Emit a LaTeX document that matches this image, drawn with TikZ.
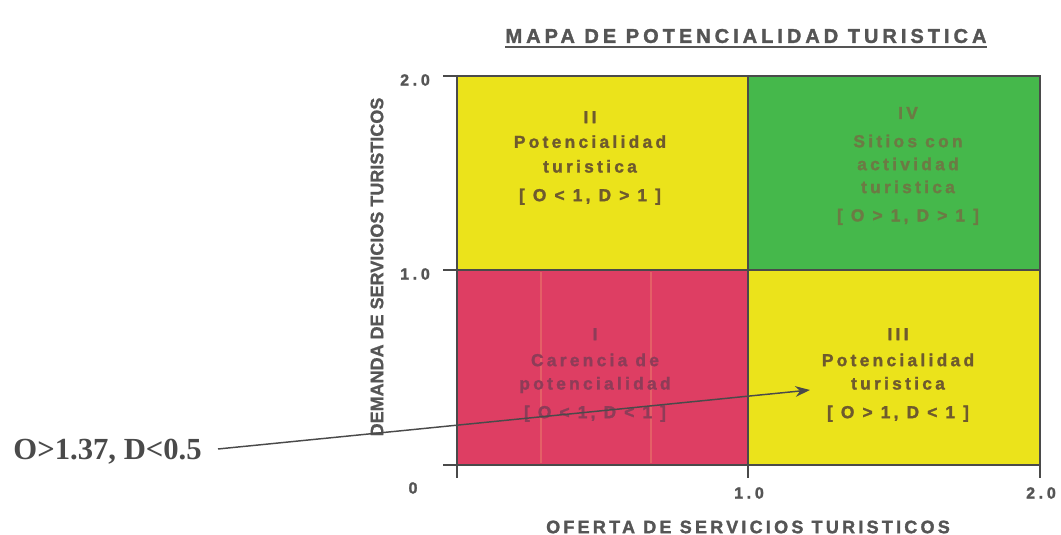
\documentclass[tikz,border=0pt]{standalone}
\usepackage{fontspec}
\setmainfont{Liberation Sans}
\newfontfamily\titlefont[LetterSpace=20,FakeBold=1.6]{Liberation Sans}
\newfontfamily\quadfont[LetterSpace=19,FakeBold=1.6]{Liberation Sans}
\newfontfamily\xtitlefont[LetterSpace=18,FakeBold=1.6]{Liberation Sans}
\newfontfamily\tickfont[LetterSpace=23,FakeBold=1.6]{Liberation Sans}
\newfontfamily\plainfont[FakeBold=1]{Liberation Sans}
\newfontfamily\serifb{Liberation Serif}
\usetikzlibrary{arrows.meta}
\definecolor{qyel}{HTML}{EBE31B}
\definecolor{qgrn}{HTML}{45B84B}
\definecolor{qred}{HTML}{DE3E63}
\definecolor{tyel}{HTML}{6E5A2E}
\definecolor{tgrn}{HTML}{6C7A44}
\definecolor{tred}{HTML}{8E3C58}
\definecolor{axgray}{HTML}{555555}
\definecolor{lngray}{HTML}{4A4A4A}
\definecolor{stripec}{HTML}{E8786A}
\tikzset{
  quadtext/.style={align=center, inner sep=0pt, font={\quadfont\bfseries\fontsize{13}{18.5}\selectfont}},
  ticklabel/.style={inner sep=0pt, text=axgray, font={\tickfont\bfseries\fontsize{12}{14}\selectfont}},
  gridline/.style={draw=lngray, line width=1.1pt},
  stripeline/.style={draw=stripec, line width=1.1pt, opacity=0.6},
  pointer/.style={draw=lngray, line width=1.1pt, -{Stealth[length=11pt,width=8pt]}}
}
\begin{document}
\begin{tikzpicture}[x=0.75pt,y=-0.75pt]
\useasboundingbox (0,0) rectangle (1061,535);
\fill[white] (0,0) rectangle (1061,535);
% quadrants
\fill[qyel] (457,76) rectangle (748,270);
\fill[qgrn] (748,76) rectangle (1040,270);
\fill[qred] (457,270) rectangle (748,465);
\fill[qyel] (748,270) rectangle (1040,465);
\draw[stripeline] (541,272) -- (541,463);
\draw[stripeline] (651,272) -- (651,463);
% grid and axes
\draw[gridline] (457,76) rectangle (1040,465);
\draw[gridline] (748,76) -- (748,478);
\draw[gridline] (457,270) -- (1040,270);
\draw[gridline] (457,75) -- (457,478);
\draw[gridline] (1040,465) -- (1040,478);
\draw[gridline] (443,76) -- (457,76);
\draw[gridline] (443,270) -- (457,270);
\draw[gridline] (443,465) -- (457,465);
% title
\node[inner sep=0pt, text=axgray, font={\titlefont\bfseries\fontsize{15}{18}\selectfont}] (title) at (746,36) {MAPA DE POTENCIALIDAD TURISTICA};
\draw[axgray, line width=1.5pt] ([yshift=-3pt]title.south west) -- ([yshift=-3pt]title.south east);
% axis labels
\node[ticklabel] (y2) at (415,80) {2.0};
\node[ticklabel] (y1) at (415,274) {1.0};
\node[ticklabel] (y0) at (413,488) {0};
\node[ticklabel] (x1) at (749,493) {1.0};
\node[ticklabel] (x2) at (1041,493) {2.0};
\node[inner sep=0pt, text=axgray, rotate=90, font={\plainfont\bfseries\fontsize{13.5}{16}\selectfont}] (ytitle) at (377,267) {DEMANDA DE SERVICIOS TURISTICOS};
\node[inner sep=0pt, text=axgray, font={\xtitlefont\bfseries\fontsize{13.5}{16}\selectfont}] (xtitle) at (748,527) {OFERTA DE SERVICIOS TURISTICOS};
% quadrant texts
\node[quadtext, text=tyel] (q2) at (590,158) {II\\Potencialidad\\turistica\\[3pt][ O < 1, D > 1 ]};
\node[quadtext, text=tgrn, font={\quadfont\bfseries\fontsize{13}{17.2}\selectfont}] (q4) at (908,166) {IV\\[4pt]Sitios con\\actividad\\turistica\\[4pt][ O > 1, D > 1 ]};
\node[quadtext, text=tred, font={\quadfont\bfseries\fontsize{13}{17.5}\selectfont}] (q1) at (595,375) {I\\[2pt]Carencia de\\potencialidad\\[4pt][ O < 1, D < 1 ]};
\node[quadtext, text=tyel, font={\quadfont\bfseries\fontsize{13}{17.5}\selectfont}] (q3) at (898,375) {III\\[2pt]Potencialidad\\turistica\\[4pt][ O > 1, D < 1 ]};
% pointer
\node[inner sep=0pt, anchor=east, text=lngray, font={\serifb\bfseries\fontsize{23}{26}\selectfont}] (pt) at (202,452) {O>1.37, D<0.5};
\coordinate (ptstart) at (218,449);
\coordinate (tip) at (810,390);
\draw[pointer] (ptstart) -- (tip);
\end{tikzpicture}
\end{document}
